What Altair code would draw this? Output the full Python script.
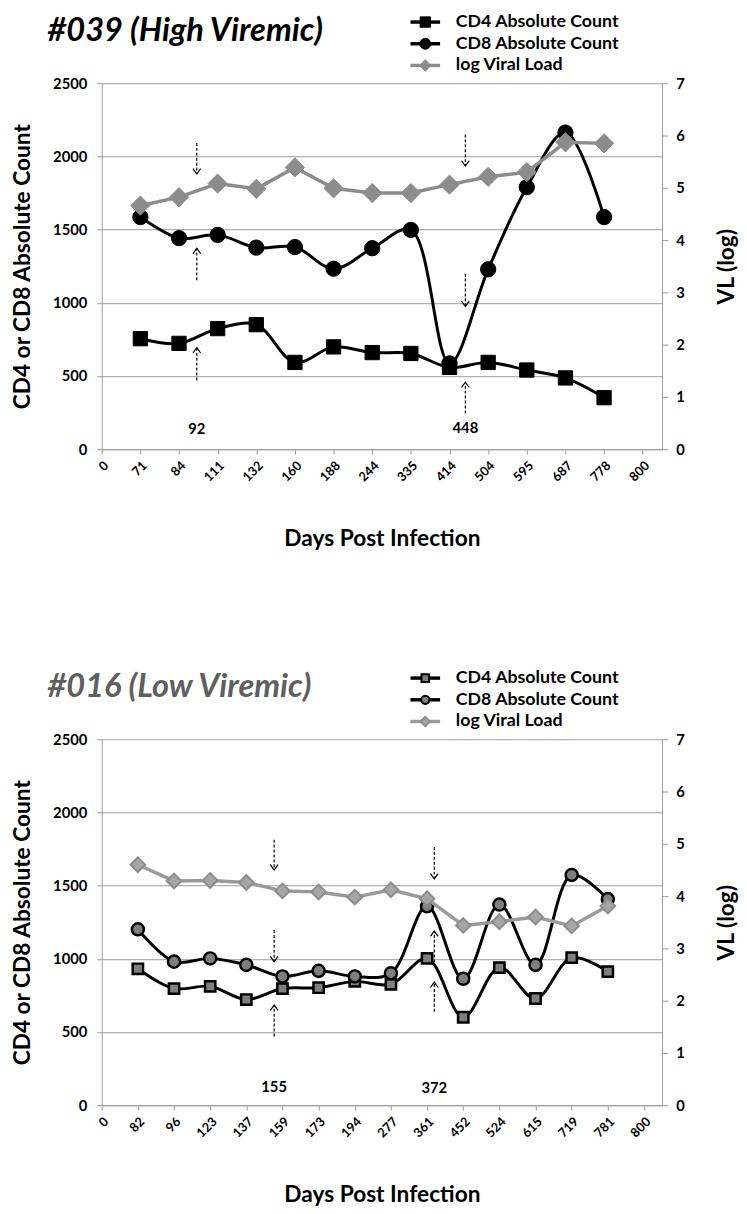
import json
import altair as alt
import pandas as pd

# ---------------- Panel A: #039 (High Viremic) ----------------
ticks_a = ["0", "71", "84", "111", "132", "160", "188", "244", "335", "414", "504", "595", "687", "778", "800"]
days_a = ["71", "84", "111", "132", "160", "188", "244", "335", "414", "504", "595", "687", "778"]
cd4_a = [755, 723, 824, 851, 593, 699, 660, 654, 559, 593, 541, 487, 352]
cd8_a = [1586, 1442, 1464, 1377, 1381, 1233, 1373, 1498, 586, 1229, 1790, 2163, 1586]
vl_a = [4.66, 4.82, 5.08, 4.98, 5.39, 4.99, 4.90, 4.90, 5.06, 5.21, 5.30, 5.87, 5.85]
arrow_x_a = [2.46, 2.46, 2.46, 9.41, 9.41, 9.41]
arrow_from_a = [2092, 1154, 470, 2150, 1199, 245]
arrow_to_a = [1880, 1373, 694, 1934, 975, 458]
note_x_a = [2.46, 9.41]
note_y_a = [135, 143]
note_text_a = ["92", "448"]

# ---------------- Panel B: #016 (Low Viremic) ----------------
ticks_b = ["0", "82", "96", "123", "137", "159", "173", "194", "277", "361", "452", "524", "615", "719", "781", "800"]
days_b = ["82", "96", "123", "137", "159", "173", "194", "277", "361", "452", "524", "615", "719", "781"]
cd4_b = [932, 797, 812, 722, 797, 803, 846, 826, 1003, 601, 940, 729, 1008, 913]
cd8_b = [1202, 981, 1003, 959, 880, 918, 880, 902, 1359, 864, 1371, 959, 1573, 1408]
vl_b = [4.60, 4.29, 4.30, 4.26, 4.10, 4.08, 3.98, 4.12, 3.95, 3.44, 3.51, 3.60, 3.43, 3.81]
arrow_x_b = [4.77, 4.77, 4.77, 9.2, 9.2, 9.2]
arrow_from_b = [1814, 1197, 470, 1764, 976, 639]
arrow_to_b = [1607, 981, 684, 1546, 1190, 841]
note_x_b = [4.77, 9.2]
note_y_b = [123, 117]
note_text_b = ["155", "372"]

legend_labels = ["CD4 Absolute Count", "CD8 Absolute Count", " log Viral Load"]

FONT = "Lato"
W, H = 568, 371
GRID = "#9a9a9a"
DOWN = "M-1,-1.4L0,0L1,-1.4"
UP = "M-1,1.4L0,0L1,1.4"


def one(text):
    return alt.Chart(pd.DataFrame({"t": [text]}))


def panel(ticks, days, cd4, cd8, vl, ax, afrom, ato, nx, ny, ntext, title, title_color, st):
    n = len(ticks)
    idx = [ticks.index(d) for d in days]
    df = pd.DataFrame({"idx": idx, "cd4": cd4, "cd8": cd8, "vl": vl})
    arr = pd.DataFrame({
        "idx": ax, "y_from": afrom, "y_to": ato,
        "dir": ["down" if b < a else "up" for a, b in zip(afrom, ato)],
    })
    notes = pd.DataFrame({"idx": nx, "ny": ny, "nt": ntext})

    xaxis = alt.Axis(
        values=list(range(n)), labelExpr=json.dumps(ticks) + "[datum.value]",
        labelAngle=-45, labelAlign="right", labelBaseline="top", labelFontSize=13,
        labelFontWeight="bold", labelPadding=5, labelFlush=False, labelOverlap=False,
        tickSize=5, tickColor=GRID, domainColor=GRID, grid=False,
        titleFontSize=23, titleFontWeight="bold", titlePadding=44,
    )
    X = alt.X("idx:Q", scale=alt.Scale(domain=[0, n - 0.5], nice=False, zero=False),
              axis=xaxis, title="Days Post Infection")
    yl_scale = alt.Scale(domain=[0, 2500], nice=False)
    yl_axis = alt.Axis(
        values=[0, 500, 1000, 1500, 2000, 2500], format="d", grid=True, gridColor=GRID, gridWidth=1,
        labelFontSize=15, labelFontWeight="bold", labelPadding=10, labelFlush=False,
        tickSize=5, tickColor=GRID, domainColor=GRID,
        titleFontSize=23, titleFontWeight="bold", titlePadding=18,
    )

    def YL(f):
        return alt.Y(f"{f}:Q", scale=yl_scale, axis=yl_axis, title="CD4 or CD8 Absolute Count")

    base = alt.Chart(df)
    cd4_line = base.mark_line(interpolate="catmull-rom", color="black", strokeWidth=3).encode(x=X, y=YL("cd4"))
    cd8_line = base.mark_line(interpolate="catmull-rom", color="black", strokeWidth=3).encode(x=X, y=YL("cd8"))
    cd4_pts = base.mark_point(shape="square", filled=True, opacity=1, size=st["sq_size"],
                              fill=st["mk_fill"], stroke="black", strokeWidth=st["mk_sw"]).encode(x=X, y=YL("cd4"))
    cd8_pts = base.mark_point(shape="circle", filled=True, opacity=1, size=st["ci_size"],
                              fill=st["mk_fill"], stroke="black", strokeWidth=st["mk_sw"]).encode(x=X, y=YL("cd8"))

    ar = alt.Chart(arr)
    shafts = ar.mark_rule(color="black", strokeWidth=1.2, strokeDash=[3, 2]).encode(
        x=X, y=YL("y_from"), y2="y_to:Q")
    heads = ar.mark_point(filled=False, opacity=1, stroke="black", strokeWidth=1.2, size=60).encode(
        x=X, y=YL("y_to"),
        shape=alt.Shape("dir:N", scale=alt.Scale(domain=["down", "up"], range=[DOWN, UP]), legend=None))
    note_txt = alt.Chart(notes).mark_text(fontSize=15, fontWeight="bold", baseline="middle", font=FONT).encode(
        x=X, y=YL("ny"), text="nt:N")

    ttl = one(title).mark_text(align="left", baseline="alphabetic", fontSize=33, fontWeight="bold",
                               fontStyle="italic", color=title_color, font=FONT).encode(
        x=alt.value(-55), y=alt.value(-43), text="t:N")

    leg = []
    rows = [-62, -40, -18]
    specs = [
        ("square", st["lg_sq"], st["mk_fill"], "black", st["lg_sw"], "black"),
        ("circle", st["lg_ci"], st["mk_fill"], "black", st["lg_sw"], "black"),
        ("diamond", st["lg_di"], st["vl_fill"], st["vl_stroke"], st["vl_sw"], st["vl_line"]),
    ]
    for lab, yy, (shp, sz, fl, sk, sw, lc) in zip(legend_labels, rows, specs):
        c = one(lab)
        leg.append(c.mark_rule(color=lc, strokeWidth=3.5).encode(
            x=alt.value(313), x2=alt.value(343), y=alt.value(yy)))
        leg.append(c.mark_point(shape=shp, filled=True, opacity=1, size=sz, fill=fl, stroke=sk,
                                strokeWidth=sw).encode(x=alt.value(328), y=alt.value(yy)))
        leg.append(c.mark_text(align="left", baseline="middle", fontSize=18, fontWeight="bold",
                               font=FONT, color="black").encode(
            x=alt.value(359), y=alt.value(yy), text="t:N"))

    left = alt.layer(cd4_line, cd8_line, cd4_pts, cd8_pts, shafts, heads, note_txt, ttl, *leg)

    yr = alt.Y("vl:Q", scale=alt.Scale(domain=[0, 7], nice=False),
               axis=alt.Axis(orient="right", values=list(range(8)), grid=False,
                             labelFontSize=15, labelFontWeight="bold", labelPadding=8, labelFlush=False,
                             tickSize=6, tickColor=GRID, domainColor=GRID,
                             titleFontSize=23, titleFontWeight="bold", titleAngle=270,
                             titleBaseline="top", titlePadding=32),
               title="VL (log)")
    vl_line = base.mark_line(color=st["vl_line"], strokeWidth=3.5).encode(x=X, y=yr)
    vl_pts = base.mark_point(shape="diamond", filled=True, opacity=1, size=st["di_size"],
                             fill=st["vl_fill"], stroke=st["vl_stroke"], strokeWidth=st["vl_sw"]).encode(x=X, y=yr)
    right = alt.layer(vl_line, vl_pts)

    return alt.layer(left, right).resolve_scale(y="independent").properties(width=W, height=H)


style_a = dict(sq_size=210, ci_size=240, mk_fill="black", mk_sw=1, di_size=380,
               vl_fill="#8c8c8c", vl_stroke="#8c8c8c", vl_sw=1, vl_line="#8c8c8c",
               lg_sq=110, lg_ci=120, lg_di=140, lg_sw=1)
style_b = dict(sq_size=110, ci_size=150, mk_fill="#7f7f7f", mk_sw=2.5, di_size=220,
               vl_fill="#a6a6a6", vl_stroke="#8c8c8c", vl_sw=2, vl_line="#9a9a9a",
               lg_sq=60, lg_ci=70, lg_di=90, lg_sw=2)

pa = panel(ticks_a, days_a, cd4_a, cd8_a, vl_a, arrow_x_a, arrow_from_a, arrow_to_a,
           note_x_a, note_y_a, note_text_a, "#039 (High Viremic)", "black", style_a)
pb = panel(ticks_b, days_b, cd4_b, cd8_b, vl_b, arrow_x_b, arrow_from_b, arrow_to_b,
           note_x_b, note_y_b, note_text_b, "#016 (Low Viremic)", "#5f5f5f", style_b)

chart = alt.vconcat(pa, pb, spacing=120).properties(
    padding={"left": 4, "top": -3, "right": 0, "bottom": 0}
).configure(font=FONT).configure_view(stroke=None).configure_axis(
    labelFont=FONT, titleFont=FONT, labelColor="black", titleColor="black")

chart.save("out.html", embed_options={"renderer": "svg", "actions": False})
